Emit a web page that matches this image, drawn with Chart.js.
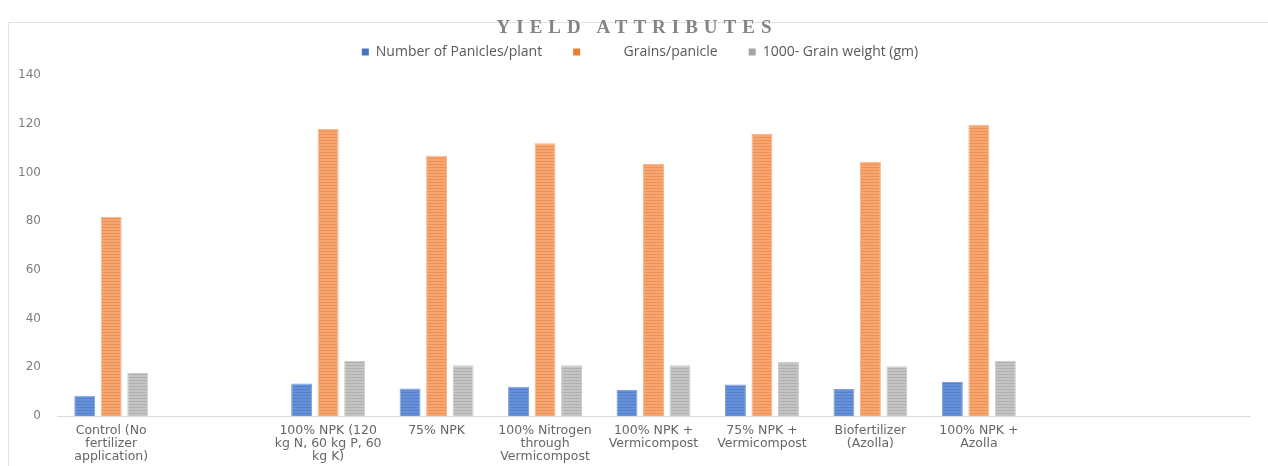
<!DOCTYPE html>
<html>
<head>
<meta charset="utf-8">
<script src="https://cdn.jsdelivr.net/npm/chart.js@4"></script>
<style>
    html, body { margin: 0; padding: 0; background: #fff; }
    #wrap { position: relative; width: 1268px; height: 466px; }
    #frame {
        position: absolute; left: 8px; top: 22px; right: 0; bottom: 0;
        border-left: 1px solid #e2e2e2; border-top: 1px solid #e2e2e2;
        pointer-events: none;
    }
    #title {
        position: absolute; left: 0; width: 1268px; top: 16px;
        text-align: center; padding-left: 6px; box-sizing: border-box;
        font-family: 'Liberation Serif', serif; font-weight: bold;
        font-size: 19px; letter-spacing: 6px; color: #848484;
    }
</style>
</head>
<body>
<div id="wrap">
    <canvas id="chart" width="1268" height="466"></canvas>
    <div id="frame"></div>
    <div id="title">YIELD ATTRIBUTES</div>
</div>
<script>
    // Categories (two empty slots as in the original sheet)
    const categories = [
        ['Control (No', 'fertilizer', 'application)'],
        '',
        ['100% NPK (120', 'kg N, 60 kg P, 60', 'kg K)'],
        '75% NPK',
        ['100% Nitrogen', 'through', 'Vermicompost'],
        ['100% NPK +', 'Vermicompost'],
        ['75% NPK +', 'Vermicompost'],
        ['Biofertilizer', '(Azolla)'],
        ['100% NPK +', 'Azolla'],
        '',
        ''
    ];

    const seriesNames = ['Number of Panicles/plant', '          Grains/panicle', '1000- Grain weight (gm)'];

    const panicles    = [8.3, null, 13.3, 11.3, 12.0, 10.7, 12.9, 11.1, 14.0, null, null];
    const grains      = [81.8, null, 117.8, 106.8, 112.0, 103.5, 115.9, 104.4, 119.6, null, null];
    const grainWeight = [17.7, null, 22.6, 20.8, 20.8, 20.8, 22.2, 20.4, 22.7, null, null];

    const yTicks = [0, 20, 40, 60, 80, 100, 120, 140];

    /**
     * Builds a striped fill like the Excel texture.
     */
    function stripes(base, line) {
        const c = document.createElement('canvas');
        c.width = 4;
        c.height = 3;
        const g = c.getContext('2d');
        g.fillStyle = base;
        g.fillRect(0, 0, 4, 3);
        g.fillStyle = line;
        g.fillRect(0, 2, 4, 1);
        return g.createPattern(c, 'repeat');
    }

    function dataset(label, values, base, line, edge, solid) {
        return {
            label: label,
            data: values,
            backgroundColor: stripes(base, line),
            borderColor: edge,
            borderWidth: 1,
            categoryPercentage: 0.733,
            barPercentage: 0.79,
            legendColor: solid
        };
    }

    // Fixed legend height and a small nudge to the right, as in the original
    const legendTweak = {
        id: 'legendTweak',
        beforeInit(chart) {
            const fit = chart.legend.fit;
            chart.legend.fit = function() {
                fit.call(this);
                this.height = 61;
            };
        },
        afterLayout(chart) {
            chart.legend.left += 6;
            chart.legend.right += 6;
        }
    };

    const ctx = document.getElementById('chart').getContext('2d');

    new Chart(ctx, {
        type: 'bar',
        data: {
            labels: categories,
            datasets: [
                dataset(seriesNames[0], panicles, '#6690d8', '#5580cc', '#7ea0dc', '#4472c4'),
                dataset(seriesNames[1], grains, '#f5a671', '#ef9055', '#f6b48a', '#ed7d31'),
                dataset(seriesNames[2], grainWeight, '#c4c4c4', '#b0b0b0', '#cdcdcd', '#a5a5a5')
            ]
        },
        options: {
            responsive: false,
            animation: false,
            layout: {
                padding: { top: 14, left: 18, right: 18, bottom: 0 }
            },
            plugins: {
                title: { display: false },
                tooltip: { enabled: false },
                legend: {
                    position: 'top',
                    labels: {
                        color: '#595959',
                        font: { family: "'Open Sans'", size: 14 },
                        boxWidth: 7,
                        boxHeight: 7,
                        padding: 31,
                        generateLabels: function(chart) {
                            return chart.data.datasets.map((ds, i) => ({
                                text: ds.label,
                                fillStyle: ds.legendColor,
                                strokeStyle: ds.legendColor,
                                lineWidth: 0,
                                datasetIndex: i,
                                fontColor: '#595959'
                            }));
                        }
                    }
                }
            },
            scales: {
                x: {
                    afterFit: function(axis) { axis.height = 50; },
                    grid: { display: false, drawTicks: false },
                    border: { display: true, color: '#d9d9d9', width: 1 },
                    ticks: {
                        color: '#666',
                        padding: 8,
                        maxRotation: 0,
                        autoSkip: false,
                        font: { family: "'DejaVu Sans'", size: 12.5, lineHeight: 1.05 }
                    }
                },
                y: {
                    min: 0,
                    max: 140,
                    afterFit: function(axis) { axis.width = 39; },
                    afterBuildTicks: function(axis) {
                        axis.ticks = yTicks.map(v => ({ value: v }));
                    },
                    grid: { display: false, drawTicks: false },
                    border: { display: false },
                    ticks: {
                        color: '#7f7f7f',
                        padding: 16,
                        font: { family: "'DejaVu Sans'", size: 12 }
                    }
                }
            }
        },
        plugins: [legendTweak]
    });
</script>
</body>
</html>
